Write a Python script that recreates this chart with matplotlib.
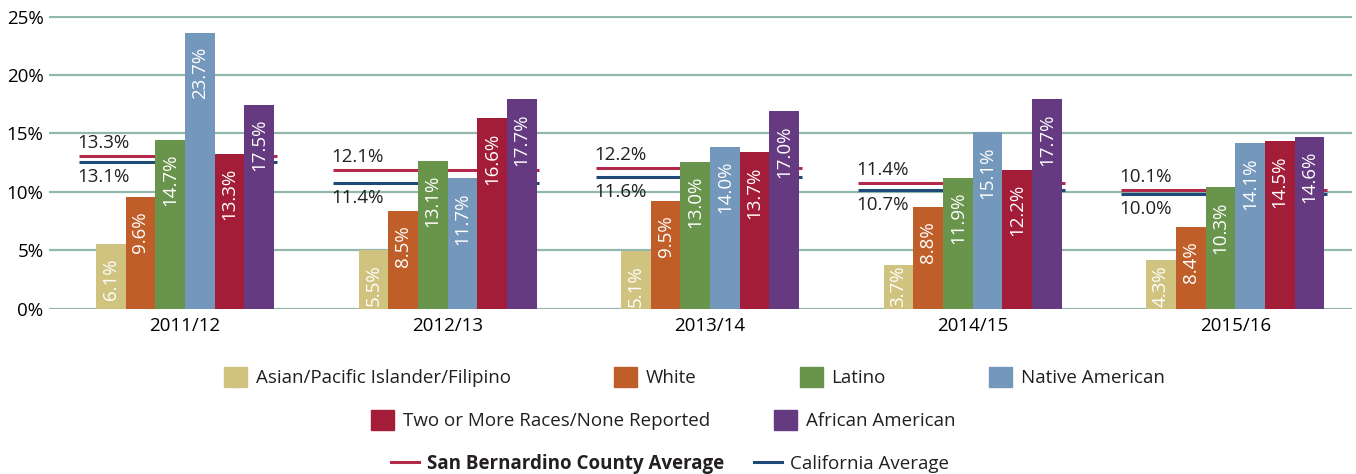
import matplotlib
matplotlib.use('Agg')
import matplotlib.pyplot as plt
import matplotlib.patches as mpatches
import matplotlib.lines as mlines
import numpy as np

#Global style
plt.rcParams['font.family'] = ['Open Sans', 'Noto Sans', 'DejaVu Sans']
plt.rcParams['font.size'] = 13.5
plt.rcParams['text.color'] = '#231f20'

#Data
years = ['2011/12', '2012/13', '2013/14', '2014/15', '2015/16']
groups = ['Asian/Pacific Islander/Filipino', 'White', 'Latino', 'Native American',
          'Two or More Races/None Reported', 'African American']
colors = ['#cfc37f', '#c05e2a', '#69944c', '#7497bc', '#a31d38', '#653a80']

#values printed on the bars
asian = [6.1, 5.5, 5.1, 3.7, 4.3]
white = [9.6, 8.5, 9.5, 8.8, 8.4]
latino = [14.7, 13.1, 13.0, 11.9, 10.3]
native = [23.7, 11.7, 14.0, 15.1, 14.1]
two_more = [13.3, 16.6, 13.7, 12.2, 14.5]
african = [17.5, 17.7, 17.0, 17.7, 14.6]

#bar heights as drawn in the source chart
asian_bar = [5.5, 5.0, 4.9, 3.7, 4.15]
white_bar = [9.55, 8.35, 9.2, 8.7, 7.0]
latino_bar = [14.45, 12.65, 12.55, 11.2, 10.4]
native_bar = [23.65, 11.15, 13.85, 15.1, 14.15]
two_more_bar = [13.25, 16.3, 13.4, 11.85, 14.35]
african_bar = [17.45, 17.95, 16.9, 17.95, 14.7]

#averages: printed values and drawn line levels
county_avg = [13.3, 12.1, 12.2, 11.4, 10.1]
state_avg = [13.1, 11.4, 11.6, 10.7, 10.0]
county_line = [13.08, 11.86, 12.0, 10.72, 10.12]
state_line = [12.57, 10.77, 11.26, 10.14, 9.78]

labels = [asian, white, latino, native, two_more, african]
heights = [asian_bar, white_bar, latino_bar, native_bar, two_more_bar, african_bar]

county_color = '#b2294a'
state_color = '#1f4a78'
grid_color = '#92b7ad'
fs = 13.5

fig = plt.figure(figsize=(13.56, 4.74), dpi=100)
ax = fig.add_axes([0.0361, 0.3479, 0.961, 0.618])

x = np.arange(len(years))
w = 0.113

#Average lines (behind bars)
for i in range(len(years)):
    x0, x1 = i - 0.435, i + 0.35
    if i == 0:
        x0 = i - 0.404
    ax.hlines(county_line[i], x0, x1, color=county_color, lw=2.2, zorder=2)
    ax.hlines(state_line[i], x0, x1, color=state_color, lw=2.2, zorder=2)
    ax.annotate(f'{county_avg[i]:.1f}%', (x0, county_line[i]), xytext=(-2, 4),
                textcoords='offset pixels', ha='left', va='bottom', fontsize=fs)
    ax.annotate(f'{state_avg[i]:.1f}%', (x0, state_line[i]), xytext=(-2, -6),
                textcoords='offset pixels', ha='left', va='top', fontsize=fs)

#Bars
px_per_unit = 11.67
for k, (name, col) in enumerate(zip(groups, colors)):
    pos = x + (k - 2.5) * w
    ax.bar(pos, heights[k], width=w, color=col, zorder=3, label=name)
    for xi, h, v in zip(pos, heights[k], labels[k]):
        txt = f'{v:.1f}%'
        est_len = 10.2 * len(txt)
        off = min(14, h * px_per_unit - est_len - 2)
        ax.annotate(txt, (xi, h), xytext=(0, -off), textcoords='offset pixels',
                    ha='center', va='top', rotation=90, color='white',
                    fontsize=fs, zorder=4)

#Axes
ax.set_xlim(-0.518, 4.445)
ax.set_ylim(-0.05, 25.05)
ax.set_xticks(x)
ax.set_xticklabels(years)
ax.set_yticks(range(0, 26, 5))
ax.set_yticklabels([f'{t}%' for t in range(0, 26, 5)])
ax.tick_params(axis='both', length=0, labelsize=fs)
ax.tick_params(axis='x', pad=6)
ax.tick_params(axis='y', pad=4)
ax.yaxis.grid(True, color=grid_color, lw=1.6)
ax.set_axisbelow(True)
for s in ax.spines.values():
    s.set_visible(False)

#Legend, three centred rows
h_bars = [mpatches.Patch(color=c) for c in colors]
leg1 = fig.legend(h_bars[:4], groups[:4], loc='center', bbox_to_anchor=(0.512, 0.2046),
                  ncol=4, frameon=False, borderpad=0, columnspacing=5.5,
                  handlelength=1.25, handleheight=1.3, handletextpad=0.45, fontsize=fs)
leg2 = fig.legend(h_bars[4:], groups[4:], loc='center', bbox_to_anchor=(0.489, 0.114),
                  ncol=2, frameon=False, borderpad=0, columnspacing=3.4,
                  handlelength=1.25, handleheight=1.3, handletextpad=0.45, fontsize=fs)
h_lines = [mlines.Line2D([], [], color=county_color, lw=2.2),
           mlines.Line2D([], [], color=state_color, lw=2.2)]
leg3 = fig.legend(h_lines, ['San Bernardino County Average', 'California Average'],
                  loc='center', bbox_to_anchor=(0.494, 0.021), ncol=2, frameon=False,
                  borderpad=0, columnspacing=1.6, handlelength=1.5, handletextpad=0.4,
                  fontsize=fs)
leg3.get_texts()[0].set_fontweight('bold')

fig.savefig('out.png', dpi=100)
